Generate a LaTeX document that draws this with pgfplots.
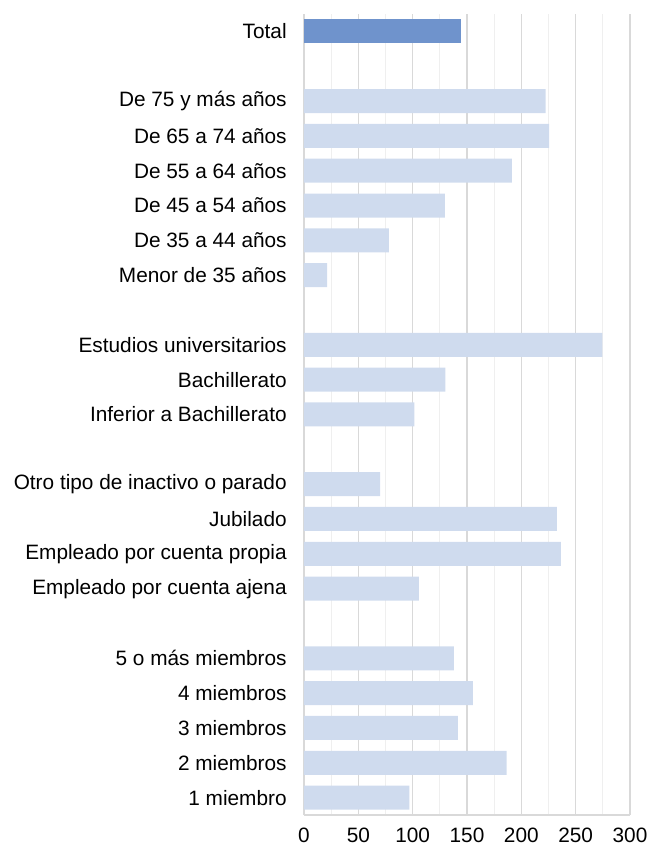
\documentclass[border=0pt]{standalone}
\usepackage{pgfplots}
\pgfplotsset{compat=1.18}
\usepackage{fontspec}
\setmainfont{Liberation Sans}
\definecolor{barlight}{HTML}{CFDBEE}
\definecolor{bardark}{HTML}{6F93CC}
\definecolor{gridmaj}{HTML}{D9D9D9}
\definecolor{gridmin}{HTML}{EFEFEF}
\begin{document}
\fontsize{10.4}{12}\selectfont
\begin{tikzpicture}
\path[use as bounding box] (-152pt,-18pt) rectangle (173pt,407.5pt);
\begin{axis}[
 at={(0,0)}, anchor=south west,
 scale only axis, width=163pt, height=400.5pt,
 xbar, bar width=12pt, bar shift=0pt,
 xmin=0, xmax=300, ymin=-0.5, ymax=22.5,
 xtick={0,50,...,300}, minor x tick num=1,
 xmajorgrids, xminorgrids,
 major grid style={gridmaj, line width=0.8pt},
 minor grid style={gridmin, line width=0.6pt},
 ytick={0,1,2,3,4,6,7,8,9,11,12,13,15,16,17,18,19,20,22},
 yticklabels={1 miembro, 2 miembros, 3 miembros, 4 miembros, 5 o más miembros, Empleado por cuenta ajena, Empleado por cuenta propia, Jubilado, Otro tipo de inactivo o parado, Inferior a Bachillerato, Bachillerato, Estudios universitarios, Menor de 35 años, De 35 a 44 años, De 45 a 54 años, De 55 a 64 años, De 65 a 74 años, De 75 y más años, Total},
 axis x line*=bottom, axis y line*=left,
 axis line style={-, gridmaj, line width=0.8pt},
 major tick length=0pt, minor tick length=0pt,
 tick style={draw=none},
 /pgf/number format/assume math mode=true,
 tick label style={font=\fontsize{10.4}{12}\selectfont, text=black},
 yticklabel style={xshift=-5pt},
 xticklabel style={yshift=-3pt},
]
\addplot[fill=barlight, draw=none] coordinates {
 (96.9,0) (186.5,1) (141.7,2) (155.5,3) (138,4)
 (105.8,6) (236.5,7) (232.8,8) (70,9)
 (101.5,11) (130,12) (274.5,13)
 (21.2,15) (78.2,16) (129.7,17) (191.4,18) (225.5,19) (222.4,20)
};
\addplot[fill=bardark, draw=none] coordinates {(144.2,22)};
\end{axis}
\end{tikzpicture}
\end{document}
